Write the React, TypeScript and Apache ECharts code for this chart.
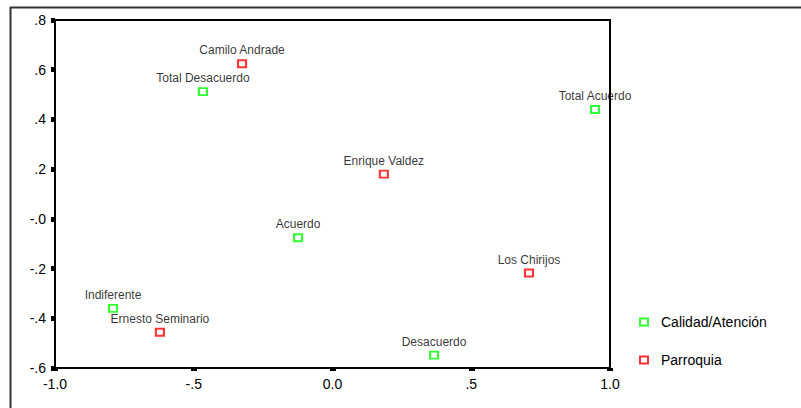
import React, { useEffect, useRef } from "react";
import * as echarts from "echarts";

const calidadNames = ["Total Desacuerdo", "Total Acuerdo", "Acuerdo", "Indiferente", "Desacuerdo"];
const calidadX = [-0.467, 0.946, -0.124, -0.791, 0.366];
const calidadY = [0.512, 0.44, -0.076, -0.36, -0.548];

const parroquiaNames = ["Camilo Andrade", "Enrique Valdez", "Los Chirijos", "Ernesto Seminario"];
const parroquiaX = [-0.326, 0.185, 0.708, -0.622];
const parroquiaY = [0.624, 0.18, -0.218, -0.456];

const xTickLabels = ["-1.0", "-.5", "0.0", ".5", "1.0"];
const yTickLabels = ["-.6", "-.4", "-.2", "-.0", ".2", ".4", ".6", ".8"];

const X_MIN = -1, X_MAX = 1, X_INT = 0.5;
const Y_MIN = -0.6, Y_MAX = 0.8, Y_INT = 0.2;

export default function App() {
  const ref = useRef<HTMLDivElement>(null);
  useEffect(() => {
    if (!ref.current) return;
    const chart = echarts.init(ref.current, undefined, { renderer: "svg" });
    const font = "'Liberation Sans', Arial, sans-serif";
    const mk = (names: string[], xs: number[], ys: number[]) =>
      names.map((n, i) => ({ name: n, value: [xs[i], ys[i]] }));
    const seriesBase = (name: string, color: string, data: any[]) => ({
      name,
      type: "scatter",
      data,
      symbol: "rect",
      symbolSize: [8, 7],
      itemStyle: { color: "rgba(255,255,255,0)", borderColor: color, borderWidth: 2 },
      label: {
        show: true,
        position: "top",
        distance: 3,
        formatter: (p: any) => p.name,
        color: "#000",
        fontSize: 12,
        fontFamily: font,
      },
      emphasis: { disabled: true },
    });
    chart.setOption({
      animation: false,
      backgroundColor: "#fff",
      grid: {
        left: 55,
        top: 20,
        right: 191,
        bottom: 40,
        show: true,
        borderColor: "#000",
        borderWidth: 2,
      },
      xAxis: {
        type: "value",
        min: X_MIN,
        max: X_MAX,
        interval: X_INT,
        splitLine: { show: false },
        axisLine: { show: true, onZero: false, lineStyle: { color: "#000", width: 2 } },
        axisTick: { show: true, length: 3, lineStyle: { color: "#000", width: 6 } },
        axisLabel: {
          margin: 9,
          color: "#000",
          fontSize: 14,
          fontFamily: font,
          formatter: (v: number) => xTickLabels[Math.round((v - X_MIN) / X_INT)] ?? "",
        },
      },
      yAxis: {
        type: "value",
        min: Y_MIN,
        max: Y_MAX,
        interval: Y_INT,
        splitLine: { show: false },
        axisLine: { show: true, onZero: false, lineStyle: { color: "#000", width: 2 } },
        axisTick: { show: true, length: 4, lineStyle: { color: "#000", width: 5 } },
        axisLabel: {
          margin: 9,
          color: "#000",
          fontSize: 14,
          fontFamily: font,
          formatter: (v: number) => yTickLabels[Math.round((v - Y_MIN) / Y_INT)] ?? "",
        },
      },
      legend: {
        orient: "vertical",
        left: 634,
        top: 310,
        itemWidth: 8,
        itemHeight: 7,
        itemGap: 24,
        selectedMode: false,
        textStyle: { color: "#000", fontSize: 14, fontFamily: font, padding: [0, 0, 0, 8] },
        data: ["Calidad/Atención", "Parroquia"],
      },
      graphic: [
        { type: "line", shape: { x1: 10, y1: 7.5, x2: 801, y2: 7.5 }, style: { stroke: "#333", lineWidth: 2 } },
        { type: "line", shape: { x1: 10.5, y1: 7, x2: 10.5, y2: 408 }, style: { stroke: "#333", lineWidth: 2 } },
      ],
      series: [
        seriesBase("Calidad/Atención", "#00ff00", mk(calidadNames, calidadX, calidadY)),
        seriesBase("Parroquia", "#ff0000", mk(parroquiaNames, parroquiaX, parroquiaY)),
      ],
    });
    return () => chart.dispose();
  }, []);
  return (
    <div
      ref={ref}
      style={{ position: "fixed", left: 0, top: 0, width: 801, height: 408, background: "#fff" }}
    />
  );
}
